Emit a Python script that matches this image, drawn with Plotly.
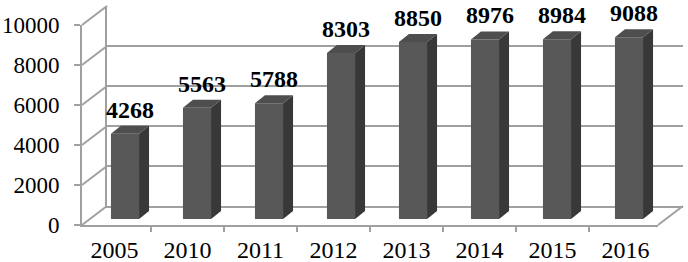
import plotly.graph_objects as go

# ---- data ----
years = ["2005", "2010", "2011", "2012", "2013", "2014", "2015", "2016"]
values = [4268, 5563, 5788, 8303, 8850, 8976, 8984, 9088]
y_ticks = [0, 2000, 4000, 6000, 8000, 10000]
y_tick_labels = ["0", "2000", "4000", "6000", "8000", "10000"]

# ---- geometry (pixels) ----
W, H = 688, 262
FX0, FX1, FY0, FY1 = 82, 658, 225, 25      # front plane
BDX, BDY = 25, -19                           # back-wall offset
CDX, CDY = 7, -6                             # bar-plane offset
DEPTH_PX_X, DEPTH_PX_Y = 10, 8               # bar depth
BAR_W = 0.39
YMAX = 10000

def px(x):
    return x / W

def py(y):
    return 1 - y / H

n = len(years)
cat_px = (FX1 - FX0) / n
val_px = (FY0 - FY1) / YMAX
dx = DEPTH_PX_X / cat_px
dy = DEPTH_PX_Y / val_px

GRID = "#a0a0a0"
FRONT = "#585858"
SIDE = "#383838"
TOP = "#4e4e4e"
FONT = "Liberation Serif"

fig = go.Figure()

# back wall subplot (x / y)
fig.add_trace(go.Scatter(x=[-0.5], y=[0], mode="markers", marker=dict(opacity=0),
                         xaxis="x", yaxis="y", showlegend=False, hoverinfo="skip"))
# front axes subplot (x2 / y2)
fig.add_trace(go.Scatter(x=years, y=[None] * n, mode="markers",
                         xaxis="x2", yaxis="y2", showlegend=False, hoverinfo="skip"))

# bars on bar plane (x3 / y3)
idx = list(range(n))
fig.add_trace(go.Bar(x=idx, y=values, width=BAR_W, marker=dict(color=FRONT, line=dict(width=0)),
                     xaxis="x3", yaxis="y3", showlegend=False, hoverinfo="skip"))
for i, v in enumerate(values):
    l, r = i - BAR_W / 2, i + BAR_W / 2
    fig.add_trace(go.Scatter(x=[r, r + dx, r + dx, r, r], y=[0, dy, v + dy, v, 0],
                             fill="toself", fillcolor=SIDE, line=dict(width=0), mode="lines",
                             xaxis="x3", yaxis="y3", showlegend=False, hoverinfo="skip"))
    fig.add_trace(go.Scatter(x=[l, l + dx, r + dx, r, l], y=[v, v + dy, v + dy, v, v],
                             fill="toself", fillcolor=TOP, line=dict(width=0), mode="lines",
                             xaxis="x3", yaxis="y3", showlegend=False, hoverinfo="skip"))
    fig.add_annotation(x=i + dx / 2, y=v + dy, xref="x3", yref="y3", text=f"<b>{v}</b>",
                       showarrow=False, yanchor="bottom", yshift=1,
                       font=dict(family=FONT, size=24, color="black"))

# side wall diagonals and floor
shapes = []
for t in y_ticks:
    yf = FY0 - t * val_px
    shapes.append(dict(type="line", xref="paper", yref="paper",
                       x0=px(FX0), y0=py(yf), x1=px(FX0 + BDX), y1=py(yf + BDY),
                       line=dict(color=GRID, width=2), layer="below"))
shapes.append(dict(type="line", xref="paper", yref="paper",
                   x0=px(FX1), y0=py(FY0), x1=px(FX1 + BDX), y1=py(FY0 + BDY),
                   line=dict(color=GRID, width=2), layer="below"))

fig.update_layout(
    width=W, height=H, margin=dict(l=0, r=0, t=0, b=0, autoexpand=False),
    paper_bgcolor="white", plot_bgcolor="rgba(0,0,0,0)",
    shapes=shapes,
    xaxis=dict(domain=[px(FX0 + BDX), px(FX1 + BDX)], range=[-0.5, n - 0.5],
               showgrid=False, showticklabels=False, zeroline=False, automargin=False,
               showline=True, linecolor=GRID, linewidth=2, anchor="y"),
    yaxis=dict(domain=[py(FY0 + BDY), py(FY1 + BDY)], range=[0, YMAX],
               tickvals=y_ticks, showgrid=True, gridcolor=GRID, gridwidth=2,
               showticklabels=False, zeroline=False, automargin=False,
               showline=True, linecolor=GRID, linewidth=2, anchor="x"),
    xaxis2=dict(domain=[px(FX0), px(FX1)], type="category", categoryarray=years,
                showgrid=False, zeroline=False, showline=True, linecolor=GRID, linewidth=2,
                ticks="outside", tickson="boundaries", ticklen=5, tickcolor=GRID, tickwidth=2,
                tickfont=dict(family=FONT, size=24, color="black"), anchor="y2",
                ticklabelstandoff=2, automargin=False),
    yaxis2=dict(domain=[py(FY0), py(FY1)], range=[0, YMAX], tickvals=y_ticks,
                ticktext=y_tick_labels,
                showgrid=False, zeroline=False, showline=True, linecolor=GRID, linewidth=2,
                ticks="outside", ticklen=6, tickcolor=GRID, tickwidth=2,
                tickfont=dict(family=FONT, size=23, color="black"), anchor="x2",
                ticklabelstandoff=10, automargin=False),
    xaxis3=dict(domain=[px(FX0 + CDX), px(FX1 + CDX)], range=[-0.5, n - 0.5],
                visible=False, anchor="y3"),
    yaxis3=dict(domain=[py(FY0 + CDY), py(FY1 + CDY)], range=[0, YMAX],
                visible=False, anchor="x3"),
)

fig.write_html("out.html", config={"displayModeBar": False},
               post_script="document.body.style.margin='0';")
